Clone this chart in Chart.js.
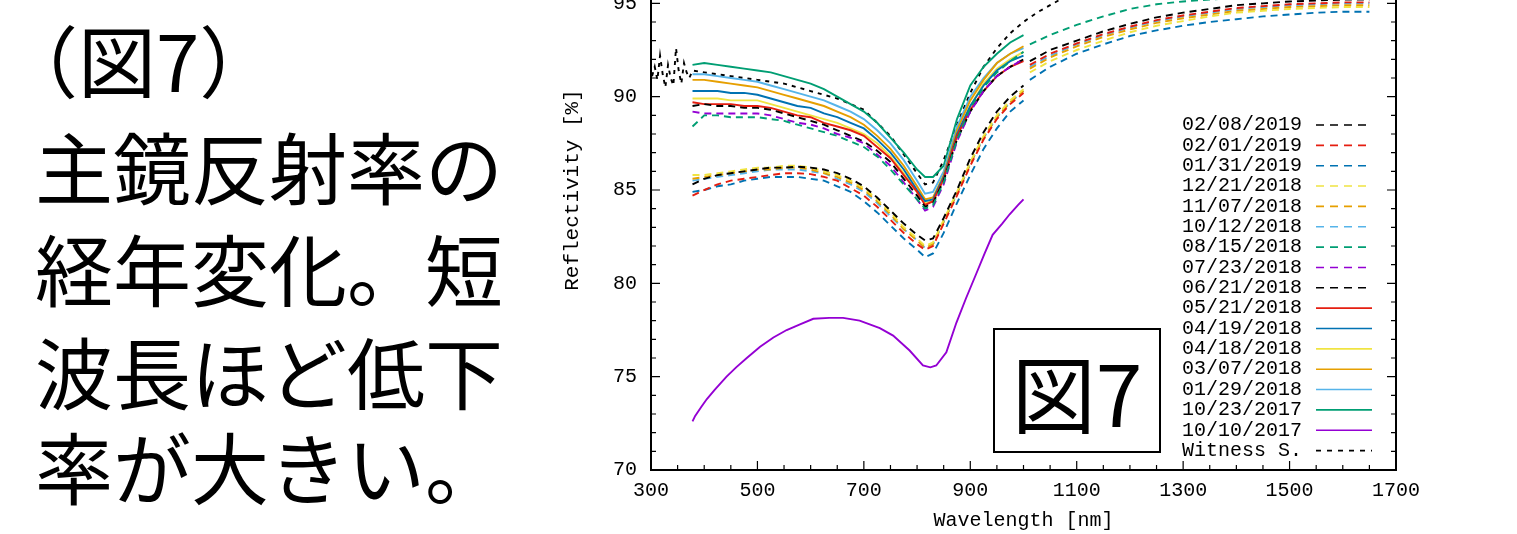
<!DOCTYPE html>
<html><head><meta charset="utf-8">
<script src="https://cdn.jsdelivr.net/npm/chart.js@4.4.1/dist/chart.umd.min.js"></script>
<style>
html,body{margin:0;padding:0;background:#fff;width:1517px;height:534px;overflow:hidden;}
body{position:relative;}
.jp{position:absolute;font-family:"Noto Sans CJK JP";font-size:78px;line-height:78px;color:#000;white-space:nowrap;}
#wrap{position:absolute;left:560px;top:-90px;width:957px;height:624px;}
#fig{position:absolute;left:993px;top:328px;width:168px;height:125px;box-sizing:border-box;border:2px solid #000;display:flex;align-items:center;justify-content:center;font-family:"Noto Sans CJK JP";font-size:84px;line-height:84px;color:#000;background:#fff;}
</style></head>
<body>
<div class="jp" style="left:0px;top:19px">（図7）</div>
<div class="jp" style="left:35px;top:126px">主鏡反射率の</div>
<div class="jp" style="left:35px;top:228px">経年変化。短</div>
<div class="jp" style="left:35px;top:331px">波長ほど低下</div>
<div class="jp" style="left:35px;top:426px">率が大きい。</div>
<div id="wrap"><canvas id="c" width="957" height="624"></canvas></div>
<div id="fig">図7</div>
<script>
// ---------- data ----------
const xTickValues = [300, 500, 700, 900, 1100, 1300, 1500, 1700];
const yTickValues = [70, 75, 80, 85, 90, 95];
const xMinorTicks = [350,400,450,550,600,650,750,800,850,950,1000,1050,1150,1200,1250,1350,1400,1450,1550,1600,1650];
const yMinorTicks = [71,72,73,74,76,77,78,79,81,82,83,84,86,87,88,89,91,92,93,94,96,97,98,99];

const visNm = [378,400,425,450,475,500,525,550,575,600,625,650,675,700,725,750,775,800,815,830,850,875,900,925,950,975,1000];
const nirNm = [1012,1050,1100,1150,1200,1250,1300,1350,1400,1450,1500,1550,1600,1650];

// lower group (2018 autumn - 2019)
const r20190208 = [85.3,85.6,85.8,85.9,86.0,86.1,86.2,86.2,86.25,86.2,86.1,85.9,85.6,85.2,84.6,83.9,83.2,82.6,82.3,82.4,83.5,85.0,86.7,88.1,89.2,90.0,90.6];
const r20190201 = [84.7,85.0,85.3,85.5,85.6,85.7,85.8,85.9,85.9,85.85,85.7,85.5,85.1,84.7,84.1,83.4,82.7,82.1,81.8,82.0,83.2,84.7,86.3,87.7,88.8,89.6,90.2];
const r20190131 = [84.9,85.0,85.2,85.3,85.5,85.6,85.7,85.7,85.7,85.6,85.5,85.2,84.9,84.4,83.8,83.1,82.4,81.8,81.4,81.6,82.7,84.3,85.8,87.2,88.3,89.2,89.8];
const r20181221 = [85.8,85.8,85.9,86.0,86.1,86.2,86.2,86.3,86.3,86.2,86.0,85.8,85.5,85.1,84.5,83.8,83.0,82.4,82.0,82.2,83.4,84.9,86.5,87.9,89.0,89.8,90.4];
const r20181107 = [85.6,85.7,85.8,85.9,86.0,86.1,86.1,86.2,86.2,86.1,85.9,85.7,85.4,85.0,84.4,83.7,82.9,82.3,81.9,82.1,83.3,84.8,86.4,87.8,88.9,89.7,90.3];
const r20181012 = [85.5,85.6,85.7,85.8,85.9,86.0,86.1,86.1,86.1,86.0,85.9,85.6,85.3,84.9,84.3,83.6,82.9,82.3,81.9,82.1,83.3,84.8,86.4,87.8,88.9,89.7,90.3];
// upper group
const r20180815 = [88.4,89.0,89.0,88.9,88.9,88.9,88.8,88.7,88.5,88.3,88.1,87.9,87.6,87.3,86.8,86.1,85.3,84.5,84.0,84.2,85.4,87.7,89.4,90.5,91.3,91.9,92.4];
const r20180723 = [89.2,89.1,89.1,89.1,89.1,89.1,89.0,88.8,88.6,88.5,88.3,88.0,87.8,87.5,86.9,86.3,85.4,84.5,83.9,84.1,85.3,87.6,89.2,90.3,91.1,91.6,92.0];
const r20180621 = [89.5,89.6,89.5,89.5,89.4,89.4,89.3,89.1,88.9,88.7,88.5,88.2,87.9,87.6,87.1,86.5,85.6,84.7,84.1,84.3,85.5,87.7,89.2,90.3,91.1,91.6,92.0];
const r20180521 = [89.7,89.6,89.6,89.6,89.5,89.5,89.4,89.2,89.0,88.9,88.6,88.4,88.2,87.9,87.3,86.7,85.8,84.9,84.2,84.4,85.6,87.9,89.3,90.3,91.1,91.6,91.9];
const r20180419 = [90.3,90.3,90.3,90.2,90.2,90.1,89.9,89.7,89.5,89.4,89.1,88.9,88.6,88.3,87.7,87.0,86.1,85.0,84.4,84.5,85.7,88.0,89.5,90.6,91.4,91.9,92.2];
const r20180418 = [89.9,89.9,89.9,89.8,89.8,89.8,89.6,89.4,89.2,89.0,88.8,88.6,88.3,88.0,87.5,86.8,85.9,84.9,84.3,84.4,85.6,87.9,89.5,90.7,91.5,92.0,92.4];
const r20180307 = [90.9,90.9,90.8,90.7,90.6,90.5,90.3,90.1,89.9,89.7,89.5,89.2,88.9,88.5,87.9,87.2,86.3,85.2,84.5,84.6,85.8,88.2,89.8,90.9,91.8,92.3,92.7];
const r20180129 = [91.2,91.2,91.1,91.0,90.9,90.8,90.6,90.4,90.2,90.0,89.8,89.5,89.2,88.8,88.2,87.5,86.6,85.5,84.8,84.9,86.0,88.4,90.0,91.0,91.8,92.3,92.6];
const r20171023 = [91.7,91.8,91.7,91.6,91.5,91.4,91.3,91.1,90.9,90.7,90.4,90.0,89.6,89.2,88.6,87.8,87.0,86.1,85.7,85.7,86.3,88.8,90.6,91.6,92.3,92.9,93.3];

// near-infrared parts
const r20190208Nir = [91.9,92.5,93.0,93.5,93.9,94.25,94.5,94.7,94.9,95.0,95.1,95.15,95.2,95.2];
const r20190201Nir = [91.7,92.3,92.85,93.35,93.75,94.1,94.35,94.55,94.75,94.85,94.95,95.0,95.05,95.05];
const r20190131Nir = [90.9,91.6,92.3,92.8,93.25,93.55,93.8,94.0,94.15,94.3,94.4,94.5,94.55,94.55];
const r20181221Nir = [91.3,91.9,92.5,93.0,93.45,93.8,94.05,94.3,94.5,94.6,94.7,94.75,94.8,94.8];
const r20181107Nir = [91.5,92.1,92.7,93.2,93.6,93.95,94.2,94.4,94.6,94.7,94.8,94.85,94.9,94.9];
const r20181012Nir = [91.6,92.2,92.8,93.3,93.7,94.05,94.3,94.5,94.7,94.8,94.9,94.95,95.0,95.0];
const r20180815Nir = [92.8,93.3,93.85,94.3,94.7,94.95,95.1,95.2,95.3,95.4,95.45,95.5,95.5,95.5];

// 10/10/2017
const purpleNm = [378,383,395,405,420,442,460,480,505,530,555,580,605,635,661,692,730,755,786,811,825,836,855,874,892,911,927,942,960,974,990,1000];
const r20171010 = [72.6,72.9,73.4,73.8,74.3,75.0,75.5,76.0,76.6,77.1,77.5,77.8,78.1,78.15,78.15,78.0,77.6,77.2,76.4,75.6,75.5,75.6,76.3,77.9,79.2,80.5,81.6,82.6,83.2,83.7,84.2,84.5];

// witness sample
const witnessNm = [302,307,312,317,322,327,332,337,342,347,352,357,362,367,372,378,400,450,500,550,600,650,700,750,775,800,815,830,850,875,900,925,950,975,1000,1025,1050,1075,1100,1150];
const witness = [91.1,91.6,90.9,92.2,91.2,90.5,91.7,91.0,90.6,92.6,91.4,90.7,91.8,91.3,91.0,91.4,91.3,91.1,90.9,90.7,90.3,89.9,89.3,87.9,86.9,85.9,85.3,85.4,86.6,88.5,90.2,91.6,92.6,93.4,94.0,94.5,94.9,95.3,95.6,96.0];

const labels = ['02/08/2019','02/01/2019','01/31/2019','12/21/2018','11/07/2018','10/12/2018','08/15/2018','07/23/2018','06/21/2018','05/21/2018','04/19/2018','04/18/2018','03/07/2018','01/29/2018','10/23/2017','10/10/2017','Witness S.'];

// ---------- build ----------
const C = {k:'#000000', r:'#e51e10', b:'#0072b2', y:'#f0e442', o:'#e69f00', lb:'#56b4e9', g:'#009e73', p:'#9400d3'};
const DASH = [7,5], DOT = [4,5];
function pts(nm, vals){ return nm.map((w,i)=>({x:w, y:vals[i]})); }
function joined(vis, nir){
  const d = pts(visNm, vis);
  if (nir){ d.push({x:1006, y:null}); return d.concat(pts(nirNm, nir)); }
  return d;
}
const defs = [
  [joined(r20190208, r20190208Nir), C.k, DASH],
  [joined(r20190201, r20190201Nir), C.r, DASH],
  [joined(r20190131, r20190131Nir), C.b, DASH],
  [joined(r20181221, r20181221Nir), C.y, DASH],
  [joined(r20181107, r20181107Nir), C.o, DASH],
  [joined(r20181012, r20181012Nir), C.lb, DASH],
  [joined(r20180815, r20180815Nir), C.g, DASH],
  [joined(r20180723), C.p, DASH],
  [joined(r20180621), C.k, DASH],
  [joined(r20180521), C.r, []],
  [joined(r20180419), C.b, []],
  [joined(r20180418), C.y, []],
  [joined(r20180307), C.o, []],
  [joined(r20180129), C.lb, []],
  [joined(r20171023), C.g, []],
  [pts(purpleNm, r20171010), C.p, []],
  [pts(witnessNm, witness), C.k, DOT]
];
const datasets = defs.map((d,i)=>({
  label: labels[i], data: d[0], borderColor: d[1], backgroundColor: d[1],
  borderDash: d[2], borderWidth: 1.9, pointRadius: 0, tension: 0, spanGaps: false, fill: false
}));

const OX = 560, OY = -90; // canvas origin on page
const gnuAxes = {
  id: 'gnuAxes',
  afterDraw(chart){
    const {ctx, chartArea:a, scales:{x, y}} = chart;
    ctx.save();
    ctx.strokeStyle = '#000';
    ctx.lineWidth = 2;
    ctx.strokeRect(a.left, a.top, a.right - a.left, a.bottom - a.top);
    ctx.lineWidth = 1.2;
    ctx.beginPath();
    const xt = (v, len) => { const p = x.getPixelForValue(v); ctx.moveTo(p, a.bottom); ctx.lineTo(p, a.bottom - len); ctx.moveTo(p, a.top); ctx.lineTo(p, a.top + len); };
    const yt = (v, len) => { const p = y.getPixelForValue(v); ctx.moveTo(a.left, p); ctx.lineTo(a.left + len, p); ctx.moveTo(a.right, p); ctx.lineTo(a.right - len, p); };
    xTickValues.forEach(v => xt(v, 9));
    xMinorTicks.forEach(v => xt(v, 5));
    yTickValues.forEach(v => yt(v, 9));
    yMinorTicks.forEach(v => yt(v, 5));
    ctx.stroke();
    ctx.restore();
  }
};
const gnuKey = {
  id: 'gnuKey',
  afterDraw(chart){
    const ctx = chart.ctx;
    ctx.save();
    ctx.font = '20px "Liberation Mono"';
    ctx.textBaseline = 'middle';
    ctx.textAlign = 'left';
    chart.data.datasets.forEach((ds, i) => {
      const yy = 125 + i * 20.35 - OY;
      ctx.fillStyle = '#000';
      ctx.fillText(ds.label, 1182 - OX, yy);
      ctx.strokeStyle = ds.borderColor;
      ctx.lineWidth = 1.6;
      ctx.setLineDash(ds.borderDash === DOT ? [5,6] : (ds.borderDash.length ? [8,6] : []));
      ctx.beginPath();
      ctx.moveTo(1316 - OX, yy);
      ctx.lineTo(1372 - OX, yy);
      ctx.stroke();
    });
    ctx.restore();
  }
};

const tickFont = {family: '"Liberation Mono"', size: 20};
new Chart(document.getElementById('c'), {
  type: 'line',
  data: { datasets },
  options: {
    responsive: false, animation: false, devicePixelRatio: 1,
    layout: { padding: { left: 0, top: 0, right: 121, bottom: 0 } },
    plugins: { legend: { display: false }, tooltip: { enabled: false } },
    scales: {
      x: {
        type: 'linear', min: 300, max: 1700,
        afterBuildTicks: s => { s.ticks = xTickValues.map(v => ({value: v})); },
        afterFit: s => { s.height = 64; s.paddingLeft = 0; s.paddingRight = 0; },
        grid: { display: false, drawTicks: false }, border: { display: false },
        ticks: { font: tickFont, color: '#000', padding: 9, maxRotation: 0, autoSkip: false, callback: v => String(v) },
        title: { display: true, text: 'Wavelength [nm]', font: {family: '"Liberation Mono"', size: 20}, color: '#000', padding: {top: 0, bottom: 1} }
      },
      y: {
        type: 'linear', min: 70, max: 100,
        afterBuildTicks: s => { s.ticks = yTickValues.map(v => ({value: v})); },
        afterFit: s => { s.width = 91; s.paddingTop = 0; s.paddingBottom = 0; },
        grid: { display: false, drawTicks: false }, border: { display: false },
        ticks: { font: tickFont, color: '#000', padding: 14, autoSkip: false, callback: v => String(v) },
        title: { display: true, text: 'Reflectivity [%]', font: {family: '"Liberation Mono"', size: 21}, color: '#000', padding: {top: 0, bottom: 0} }
      }
    }
  },
  plugins: [gnuAxes, gnuKey]
});
</script>
</body></html>
